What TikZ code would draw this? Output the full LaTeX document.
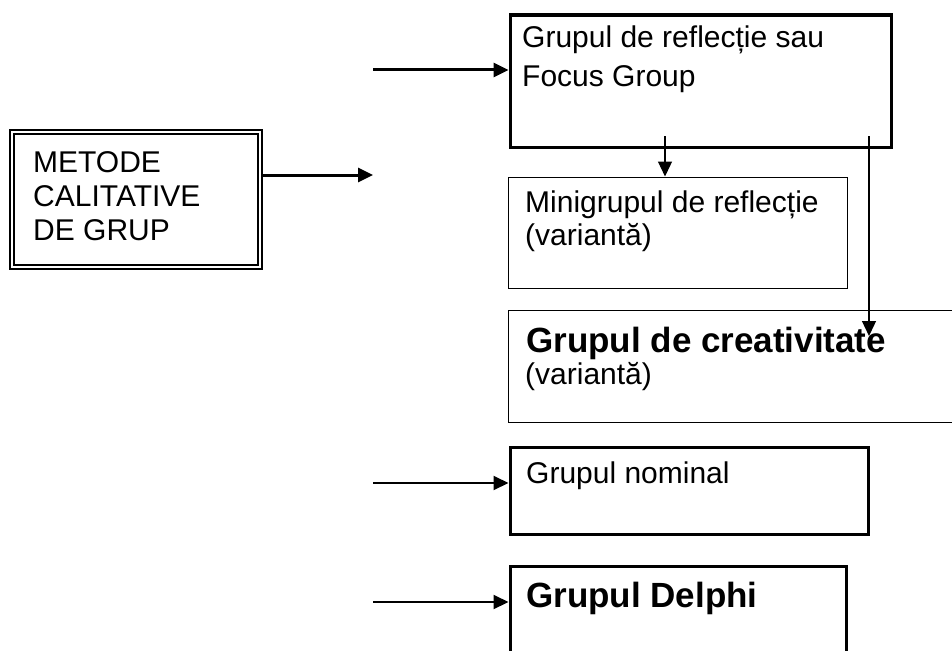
\documentclass[tikz,border=0pt]{standalone}
\usepackage{fontspec}
\setmainfont{Liberation Sans}
\usetikzlibrary{arrows.meta}
\begin{document}
\begin{tikzpicture}[x=1pt,y=-1pt,
  box/.style={draw, inner sep=0pt, anchor=north west},
  thickbox/.style={box, line width=3.2pt},
  thinbox/.style={box, line width=1.3pt},
  lbl/.style={anchor=base west, inner sep=0pt, font=\fontsize{30}{35}\selectfont},
  blbl/.style={anchor=base west, inner sep=0pt, font=\fontsize{35}{40}\selectfont\bfseries},
  arr/.style={-{Triangle[length=15pt,width=14pt]}},
]
\clip (0,0) rectangle (952,650);
% boxes
\node[box, double, line width=2pt, double distance=2pt, minimum width=248pt, minimum height=135pt] (m) at (11,131) {};
\node[thickbox, minimum width=381pt, minimum height=132pt] (fg) at (508.5,13.5) {};
\node[thinbox, minimum width=339pt, minimum height=111pt] (mini) at (507.5,176.5) {};
\node[thinbox, minimum width=470pt, minimum height=112pt] (cre) at (507.5,309.5) {};
\node[thickbox, minimum width=358pt, minimum height=87pt] (nom) at (508.5,445.5) {};
\node[thickbox, minimum width=336pt, minimum height=120pt] (del) at (508.5,564.5) {};
% texts
\node[lbl] (m1) at (33,172) {METODE};
\node[lbl] (m2) at (33,206) {CALITATIVE};
\node[lbl] (m3) at (33,240) {DE GRUP};
\node[lbl] (f1) at (522,48) {Grupul de reflecție sau};
\node[lbl] (f2) at (522,87) {Focus Group};
\node[lbl] (n1) at (525,212) {Minigrupul de reflecție};
\node[lbl] (n2) at (525,245) {(variantă)};
\node[blbl] (c1) at (526,352) {Grupul de creativitate};
\node[lbl] (c2) at (525,384) {(variantă)};
\node[lbl] (g1) at (526,483) {Grupul nominal};
\node[blbl] (d1) at (526,607) {Grupul Delphi};
% connectors
\coordinate (e0) at (373,175);
\draw[arr, line width=3pt] (m.east |- e0) -- (e0);
\coordinate (s1) at (373,70);
\draw[arr, line width=3pt] (s1) -- (s1 -| fg.west);
\coordinate (s2) at (373,483);
\draw[arr, line width=2pt] (s2) -- (s2 -| nom.west);
\coordinate (s3) at (373,602);
\draw[arr, line width=2pt] (s3) -- (s3 -| del.west);
\coordinate (t1) at (665,136);
\draw[arr, line width=1.3pt] (t1) -- (t1 |- mini.north);
\coordinate (t2) at (869,136);
\coordinate (h2) at (869,336);
\draw[arr, line width=1.3pt] (t2) -- (h2);
\end{tikzpicture}
\end{document}
